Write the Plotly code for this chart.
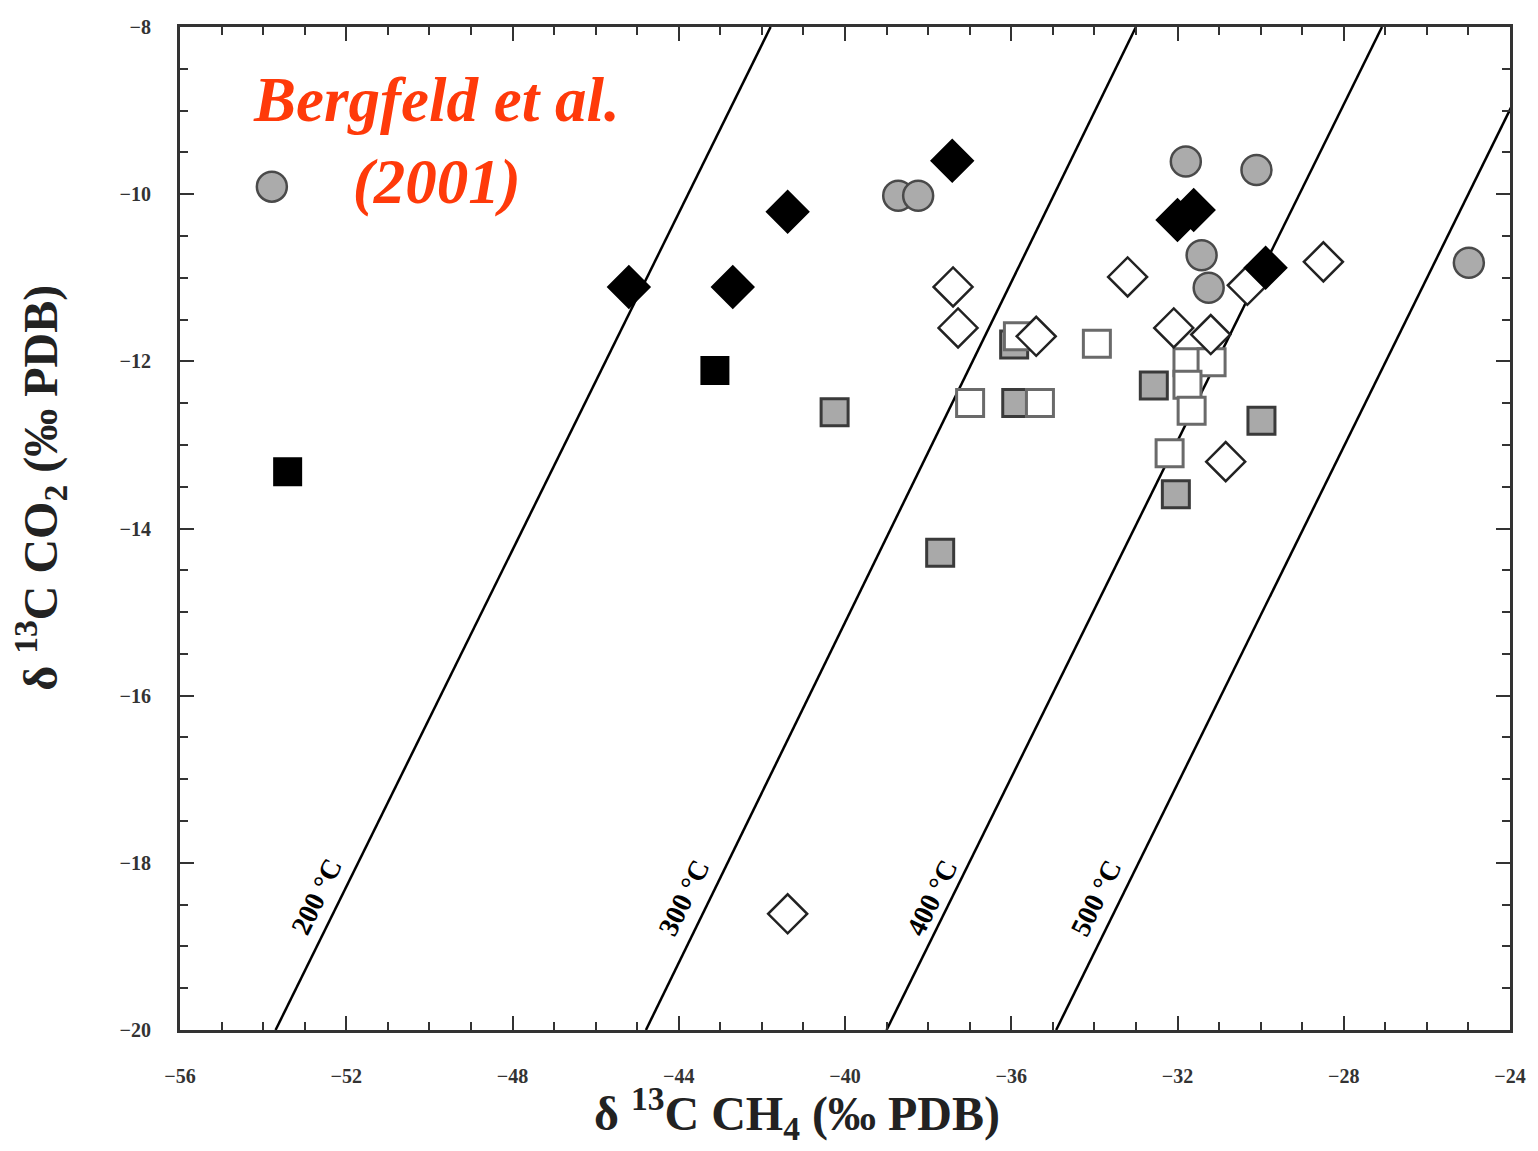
import plotly.graph_objects as go

# ---- data ----
gray_circle_x = [-53.79, -38.72, -38.24, -31.80, -30.10, -31.42, -31.25, -24.99]
gray_circle_y = [-9.91, -10.02, -10.02, -9.61, -9.71, -10.73, -11.12, -10.82]

black_diamond_x = [-45.20, -42.70, -41.38, -37.42, -32.00, -31.61, -29.88]
black_diamond_y = [-11.11, -11.11, -10.21, -9.60, -10.31, -10.19, -10.88]

open_diamond_x = [-37.40, -37.28, -35.40, -33.20, -32.09, -31.20, -30.32, -28.49, -30.84, -41.38]
open_diamond_y = [-11.11, -11.60, -11.70, -10.99, -11.60, -11.68, -11.09, -10.81, -13.20, -18.61]

gray_square_x = [-40.25, -35.93, -35.88, -32.57, -29.98, -32.04, -37.71]
gray_square_y = [-12.61, -11.80, -12.50, -12.29, -12.71, -13.59, -14.29]

open_square_x = [-35.84, -33.94, -36.99, -35.31, -31.76, -31.18, -31.76, -31.66, -32.19]
open_square_y = [-11.70, -11.79, -12.50, -12.50, -12.01, -12.01, -12.28, -12.59, -13.10]

black_square_x = [-43.13, -53.41]
black_square_y = [-12.11, -13.32]

# isotherm lines: (x at y=-20, x at y=-8)
iso_labels = ["200 °C", "300 °C", "400 °C", "500 °C"]
iso_x_bottom = [-53.70, -44.79, -39.00, -34.92]
iso_x_top = [-41.79, -33.00, -27.08, -23.02]
iso_label_x = [-52.72, -43.87, -37.90, -33.95]
iso_label_y = [-18.40, -18.42, -18.42, -18.42]

x_range = [-56, -24]
y_range = [-20, -8]

fig = go.Figure()

for xb, xt in zip(iso_x_bottom, iso_x_top):
    fig.add_trace(go.Scatter(x=[xb, xt], y=[y_range[0], y_range[1]], mode="lines",
                             line=dict(color="black", width=2.5), showlegend=False,
                             hoverinfo="skip"))

fig.add_trace(go.Scatter(x=gray_square_x, y=gray_square_y, mode="markers",
                         marker=dict(symbol="square", size=27, color="#a9a9a9",
                                     line=dict(color="#3a3a3a", width=3)), showlegend=False))
fig.add_trace(go.Scatter(x=open_square_x, y=open_square_y, mode="markers",
                         marker=dict(symbol="square", size=27, color="white",
                                     line=dict(color="#6a6a6a", width=3)), showlegend=False))
fig.add_trace(go.Scatter(x=black_square_x, y=black_square_y, mode="markers",
                         marker=dict(symbol="square", size=27, color="black",
                                     line=dict(color="black", width=2)), showlegend=False))
fig.add_trace(go.Scatter(x=open_diamond_x, y=open_diamond_y, mode="markers",
                         marker=dict(symbol="diamond", size=30, color="white",
                                     line=dict(color="#222222", width=2.5)), showlegend=False))
fig.add_trace(go.Scatter(x=black_diamond_x, y=black_diamond_y, mode="markers",
                         marker=dict(symbol="diamond", size=32, color="black",
                                     line=dict(color="black", width=2)), showlegend=False))
fig.add_trace(go.Scatter(x=gray_circle_x, y=gray_circle_y, mode="markers",
                         marker=dict(symbol="circle", size=30, color="#ababab",
                                     line=dict(color="#4a4a4a", width=2.5)), showlegend=False))

for lab, lx, ly in zip(iso_labels, iso_label_x, iso_label_y):
    fig.add_annotation(x=lx, y=ly, text="<b>" + lab + "</b>", showarrow=False,
                       textangle=-63.7, font=dict(family="Liberation Serif", size=28, color="black"))

fig.add_annotation(x=-49.83, y=-9.36, xref="x", yref="y",
                   text="<b><i>Bergfeld et al.</i></b><br><b><i>(2001)</i></b>",
                   showarrow=False, align="center",
                   font=dict(family="Liberation Serif", size=63, color="#ff3a0a"))

# axis titles
fig.add_annotation(x=-0.105, y=0.541, xref="paper", yref="paper", textangle=-90,
                   xanchor="center", yanchor="middle",
                   text="<b>δ <sup>13</sup>C CO<sub>2</sub> (‰ PDB)</b>", showarrow=False,
                   font=dict(family="Liberation Serif", size=48, color="#222222"))
fig.add_annotation(x=0.464, y=-0.083, xref="paper", yref="paper",
                   xanchor="center", yanchor="middle",
                   text="<b>δ <sup>13</sup>C CH<sub>4</sub> (‰ PDB)</b>", showarrow=False,
                   font=dict(family="Liberation Serif", size=48, color="#222222"))

axis_common = dict(showline=True, linecolor="#333333", linewidth=3, mirror="ticks",
                   ticks="inside", tickcolor="#333333", tickwidth=2, ticklen=14,
                   showgrid=False, zeroline=False,
                   tickfont=dict(family="Liberation Serif", size=20, color="#333333", weight="bold"))

fig.update_xaxes(range=x_range, dtick=4, tick0=-56,
                 minor=dict(ticks="inside", dtick=1, ticklen=8, tickcolor="#333333", tickwidth=2),
                 ticklabelstandoff=26, **axis_common)
fig.update_yaxes(range=y_range, dtick=2, tick0=-20,
                 minor=dict(ticks="inside", dtick=0.5, ticklen=8, tickcolor="#333333", tickwidth=2),
                 ticklabelstandoff=22, **axis_common)

fig.update_layout(width=1538, height=1151, plot_bgcolor="white", paper_bgcolor="white",
                  margin=dict(l=180, r=23, t=27, b=121), showlegend=False)

fig.write_html("out.html")
